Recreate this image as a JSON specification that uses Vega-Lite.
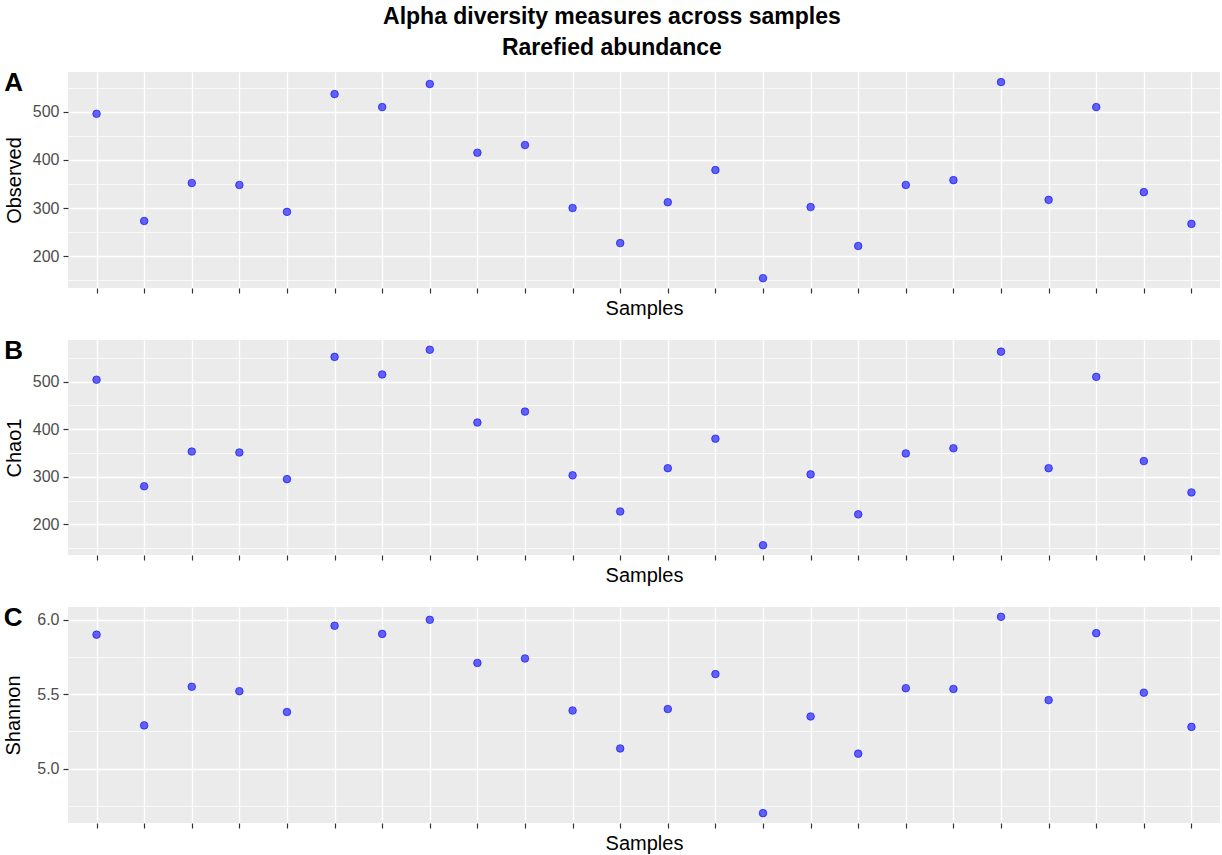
{
  "$schema": "https://vega.github.io/schema/vega-lite/v6.json",
  "padding": {"left": 3, "top": 6, "right": 2, "bottom": 2},
  "background": "white",
  "title": {
    "text": ["Alpha diversity measures across samples", "Rarefied abundance"],
    "fontSize": 23,
    "fontWeight": "bold",
    "lineHeight": 31,
    "anchor": "middle",
    "frame": "bounds",
    "color": "black",
    "offset": 10
  },
  "data": {
    "values": [
      {"Sample": "S01", "Observed": 496, "Chao1": 504, "Shannon": 5.90},
      {"Sample": "S02", "Observed": 273, "Chao1": 280, "Shannon": 5.29},
      {"Sample": "S03", "Observed": 352, "Chao1": 353, "Shannon": 5.55},
      {"Sample": "S04", "Observed": 348, "Chao1": 351, "Shannon": 5.52},
      {"Sample": "S05", "Observed": 292, "Chao1": 295, "Shannon": 5.38},
      {"Sample": "S06", "Observed": 537, "Chao1": 552, "Shannon": 5.96},
      {"Sample": "S07", "Observed": 510, "Chao1": 515, "Shannon": 5.905},
      {"Sample": "S08", "Observed": 558, "Chao1": 567, "Shannon": 6.00},
      {"Sample": "S09", "Observed": 415, "Chao1": 414, "Shannon": 5.71},
      {"Sample": "S10", "Observed": 431, "Chao1": 437, "Shannon": 5.74},
      {"Sample": "S11", "Observed": 300, "Chao1": 303, "Shannon": 5.39},
      {"Sample": "S12", "Observed": 227, "Chao1": 227, "Shannon": 5.135},
      {"Sample": "S13", "Observed": 312, "Chao1": 318, "Shannon": 5.40},
      {"Sample": "S14", "Observed": 379, "Chao1": 380, "Shannon": 5.635},
      {"Sample": "S15", "Observed": 154, "Chao1": 156, "Shannon": 4.70},
      {"Sample": "S16", "Observed": 302, "Chao1": 305, "Shannon": 5.35},
      {"Sample": "S17", "Observed": 221, "Chao1": 221, "Shannon": 5.10},
      {"Sample": "S18", "Observed": 348, "Chao1": 349, "Shannon": 5.54},
      {"Sample": "S19", "Observed": 358, "Chao1": 360, "Shannon": 5.535},
      {"Sample": "S20", "Observed": 562, "Chao1": 563, "Shannon": 6.02},
      {"Sample": "S21", "Observed": 317, "Chao1": 318, "Shannon": 5.46},
      {"Sample": "S22", "Observed": 510, "Chao1": 510, "Shannon": 5.91},
      {"Sample": "S23", "Observed": 333, "Chao1": 333, "Shannon": 5.51},
      {"Sample": "S24", "Observed": 267, "Chao1": 267, "Shannon": 5.28}
    ]
  },
  "spacing": 19,
  "vconcat": [
    {
      "width": 1152,
      "height": 216,
      "title": {"text": "A", "anchor": "start", "frame": "bounds", "fontSize": 26, "fontWeight": "bold", "baseline": "top", "offset": -24, "color": "black"},
      "layer": [
        {
          "mark": {"type": "point", "filled": true, "size": 58, "fill": "#0000FF", "fillOpacity": 0.6, "stroke": "#0000FF", "strokeOpacity": 0.6, "strokeWidth": 1},
          "encoding": {
            "x": {"field": "Sample", "type": "nominal", "scale": {"type": "point", "padding": 0.6}, "axis": {"title": "Samples", "labels": false}},
            "y": {"field": "Observed", "type": "quantitative", "scale": {"domain": [133.6, 583], "nice": false, "zero": false}, "axis": {"title": "Observed", "values": [200, 300, 400, 500], "format": "d"}}
          }
        },
        {
          "mark": {"type": "point", "opacity": 0},
          "encoding": {
            "y": {"field": "Observed", "type": "quantitative", "axis": {"orient": "left", "title": null, "values": [150, 250, 350, 450, 550], "labels": false, "ticks": false, "domain": false, "grid": true, "gridWidth": 0.7}}
          }
        }
      ],
      "resolve": {"axis": {"y": "independent"}}
    },
    {
      "width": 1152,
      "height": 215,
      "title": {"text": "B", "anchor": "start", "frame": "bounds", "fontSize": 26, "fontWeight": "bold", "baseline": "top", "offset": -24, "color": "black"},
      "layer": [
        {
          "mark": {"type": "point", "filled": true, "size": 58, "fill": "#0000FF", "fillOpacity": 0.6, "stroke": "#0000FF", "strokeOpacity": 0.6, "strokeWidth": 1},
          "encoding": {
            "x": {"field": "Sample", "type": "nominal", "scale": {"type": "point", "padding": 0.6}, "axis": {"title": "Samples", "labels": false}},
            "y": {"field": "Chao1", "type": "quantitative", "scale": {"domain": [135.5, 587.5], "nice": false, "zero": false}, "axis": {"title": "Chao1", "values": [200, 300, 400, 500], "format": "d"}}
          }
        },
        {
          "mark": {"type": "point", "opacity": 0},
          "encoding": {
            "y": {"field": "Chao1", "type": "quantitative", "axis": {"orient": "left", "title": null, "values": [150, 250, 350, 450, 550], "labels": false, "ticks": false, "domain": false, "grid": true, "gridWidth": 0.7}}
          }
        }
      ],
      "resolve": {"axis": {"y": "independent"}}
    },
    {
      "width": 1152,
      "height": 216,
      "title": {"text": "C", "anchor": "start", "frame": "bounds", "fontSize": 26, "fontWeight": "bold", "baseline": "top", "offset": -24, "color": "black"},
      "layer": [
        {
          "mark": {"type": "point", "filled": true, "size": 58, "fill": "#0000FF", "fillOpacity": 0.6, "stroke": "#0000FF", "strokeOpacity": 0.6, "strokeWidth": 1},
          "encoding": {
            "x": {"field": "Sample", "type": "nominal", "scale": {"type": "point", "padding": 0.6}, "axis": {"title": "Samples", "labels": false}},
            "y": {"field": "Shannon", "type": "quantitative", "scale": {"domain": [4.634, 6.086], "nice": false, "zero": false}, "axis": {"title": "Shannon", "values": [5.0, 5.5, 6.0], "format": ".1f", "titlePadding": 13}}
          }
        },
        {
          "mark": {"type": "point", "opacity": 0},
          "encoding": {
            "y": {"field": "Shannon", "type": "quantitative", "axis": {"orient": "left", "title": null, "values": [4.75, 5.25, 5.75], "labels": false, "ticks": false, "domain": false, "grid": true, "gridWidth": 0.7}}
          }
        }
      ],
      "resolve": {"axis": {"y": "independent"}}
    }
  ],
  "config": {
    "font": "Liberation Sans",
    "view": {"fill": "#EBEBEB", "stroke": null},
    "axis": {
      "domain": false,
      "grid": true,
      "gridColor": "#FFFFFF",
      "gridWidth": 1.4,
      "gridOpacity": 1,
      "tickColor": "#333333",
      "tickSize": 5,
      "tickWidth": 1.2,
      "labelFontSize": 16,
      "labelColor": "#4D4D4D",
      "labelPadding": 4,
      "titleFontSize": 20,
      "titleFontWeight": "normal",
      "titleColor": "black"
    },
    "axisX": {"titlePadding": 5},
    "axisY": {"titlePadding": 8},
    "title": {"color": "black"}
  }
}
